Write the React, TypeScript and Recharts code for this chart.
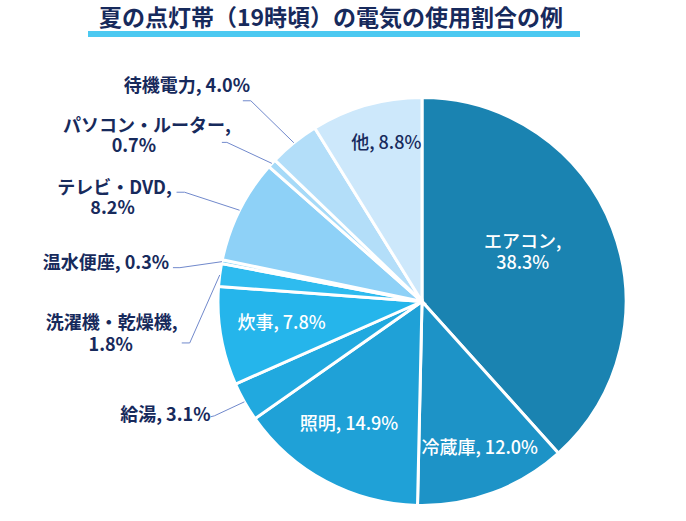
import React from 'react';
import { PieChart, Pie, Cell } from 'recharts';

const categories = [
  'エアコン',
  '冷蔵庫',
  '照明',
  '給湯',
  '炊事',
  '洗濯機・乾燥機',
  '温水便座',
  'テレビ・DVD',
  'パソコン・ルーター',
  '待機電力',
  '他',
];
const shares = [38.3, 12.0, 14.9, 3.1, 7.8, 1.8, 0.3, 8.2, 0.7, 4.0, 8.8];
const percentLabels = ['38.3%', '12.0%', '14.9%', '3.1%', '7.8%', '1.8%', '0.3%', '8.2%', '0.7%', '4.0%', '8.8%'];
const titleText = '夏の点灯帯（19時頃）の電気の使用割合の例';

const colors = [
  '#1a83b1',
  '#1d93c7',
  '#1fa1d7',
  '#21a9df',
  '#25b5eb',
  '#2ebbef',
  '#6acbf4',
  '#8ed1f7',
  '#a6daf8',
  '#b3def9',
  '#cde8fb',
];

const data = categories.map((name, i) => ({ name, value: shares[i] }));

const NAVY = '#172a5c';
const LEADER = '#7189cc';
const FONT = "'Noto Sans CJK JP', 'Noto Sans', sans-serif";
const FS = 18;
const RAD = Math.PI / 180;

type Layout = {
  inside?: boolean;
  r?: number;
  da?: number;
  color?: string;
  twoLines?: boolean;
  knee?: [number, number];
  end?: [number, number];
  text?: [number, number][];
};

const labelLayout: Record<string, Layout> = {
  'エアコン': { inside: true, r: 112, da: 5, color: '#ffffff', twoLines: true },
  '冷蔵庫': { inside: true, r: 157, da: 1.2, color: '#ffffff' },
  '照明': { inside: true, r: 142, da: -2.8, color: '#ffffff' },
  '炊事': { inside: true, r: 142, da: -1.5, color: '#ffffff' },
  '他': { inside: true, r: 163, da: -3.2, color: NAVY },
  '待機電力': { knee: [-43, -42], end: [-51, -42], text: [[-107, -57]] },
  'パソコン・ルーター': { knee: [-45, -21], end: [-50, -21], text: [[-125, -38], [-138, -18]] },
  'テレビ・DVD': { knee: [-55, -18], end: [-63, -18], text: [[-125, -23], [-127, -3]] },
  '温水便座': { knee: [-42, 6], end: [-49, 6], text: [[-116, 1]] },
  '洗濯機・乾燥機': { knee: [-30, 68], end: [-38, 68], text: [[-108, 48], [-109, 70]] },
  '給湯': { knee: [-30, 14], end: [-34, 15], text: [[-79, 13]] },
};

const renderLabel = (props: any) => {
  const { cx, cy, midAngle, outerRadius, index } = props;
  const name = categories[index];
  const pct = percentLabels[index];
  const lay = labelLayout[name];
  if (!lay) return null;
  const baseShift = FS * 0.36;
  if (lay.inside) {
    const a = (midAngle + (lay.da || 0)) * RAD;
    const x = cx + (lay.r || 0) * Math.cos(-a);
    const y = cy + (lay.r || 0) * Math.sin(-a);
    const lines = lay.twoLines ? [name + ',', pct] : [name + ', ' + pct];
    const lh = 21;
    const y0 = y - ((lines.length - 1) * lh) / 2;
    return (
      <g key={'lab' + index}>
        <text
          x={x}
          y={y0 + baseShift}
          textAnchor="middle"
          fill={lay.color}
          fontFamily={FONT}
          fontSize={FS}
          fontWeight={500}
        >
          {lines.map((t, k) => (
            <tspan key={k} x={x} y={y0 + k * lh + baseShift}>
              {t}
            </tspan>
          ))}
        </text>
      </g>
    );
  }
  const ex = cx + outerRadius * Math.cos(-midAngle * RAD);
  const ey = cy + outerRadius * Math.sin(-midAngle * RAD);
  const knee = lay.knee || [0, 0];
  const end = lay.end || [0, 0];
  const texts = lay.text || [];
  const lines = texts.length > 1 ? [name + ',', pct] : [name + ', ' + pct];
  return (
    <g key={'lab' + index}>
      <polyline
        points={`${ex},${ey} ${ex + knee[0]},${ey + knee[1]} ${ex + end[0]},${ey + end[1]}`}
        fill="none"
        stroke={LEADER}
        strokeWidth={1}
      />
      <text
        x={ex + texts[0][0]}
        y={ey + texts[0][1] + baseShift}
        textAnchor="middle"
        fill={NAVY}
        fontFamily={FONT}
        fontSize={FS}
        fontWeight={700}
      >
        {lines.map((t, k) => (
          <tspan key={k} x={ex + texts[k][0]} y={ey + texts[k][1] + baseShift}>
            {t}
          </tspan>
        ))}
      </text>
    </g>
  );
};

export default function App() {
  return (
    <div style={{ position: 'absolute', left: 0, top: 0, width: 686, height: 521, background: '#ffffff' }}>
      <div style={{ position: 'absolute', left: 0, top: 0 }}>
        <PieChart width={686} height={521} margin={{ top: 0, right: 0, bottom: 0, left: 0 }}>
          <Pie
            data={data}
            dataKey="value"
            nameKey="name"
            cx={422}
            cy={301.5}
            outerRadius={204}
            startAngle={90}
            endAngle={-270}
            stroke="#ffffff"
            strokeWidth={3}
            isAnimationActive={false}
            label={renderLabel}
            labelLine={false}
          >
            {data.map((d, i) => (
              <Cell key={d.name} fill={colors[i]} />
            ))}
          </Pie>
        </PieChart>
      </div>
      <div
        style={{
          position: 'absolute',
          left: 81,
          top: 0,
          width: 500,
          textAlign: 'center',
          fontFamily: FONT,
          fontSize: 23,
          lineHeight: '34px',
          fontWeight: 700,
          color: NAVY,
          whiteSpace: 'nowrap',
          marginTop: -1,
        }}
      >
        {titleText}
      </div>
      <div style={{ position: 'absolute', left: 88, top: 31, width: 492, height: 6, background: '#4cc9f1' }} />
    </div>
  );
}
